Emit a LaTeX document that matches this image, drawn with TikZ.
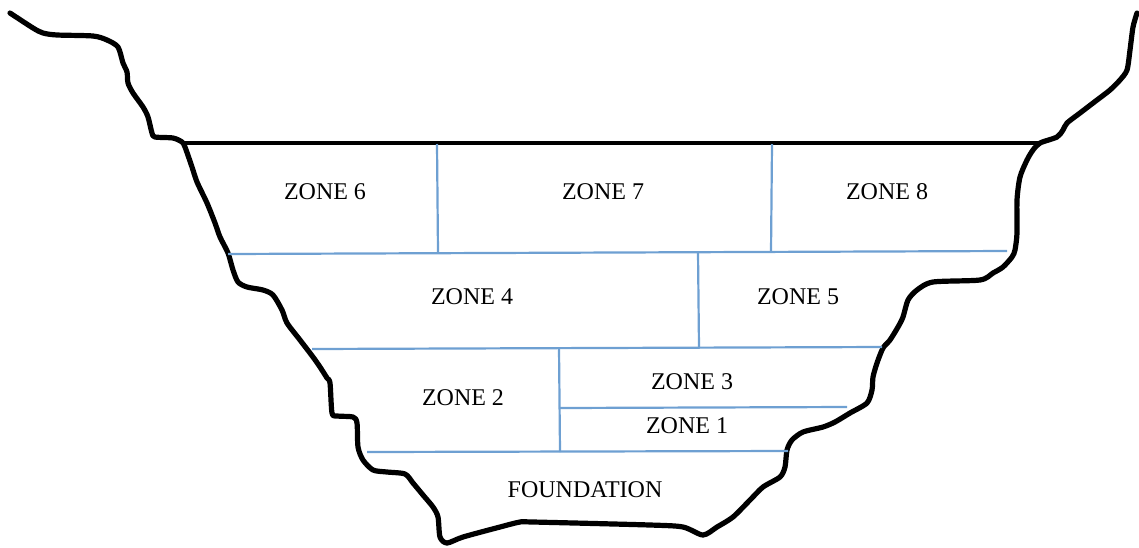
\documentclass[tikz,border=0pt]{standalone}
\usepackage{fontspec}
\setmainfont{Liberation Serif}
\definecolor{zoneblue}{RGB}{110,160,210}
\begin{document}
\begin{tikzpicture}[x=0.5pt,y=-0.5pt,
  ground/.style={line width=2.6pt,black,line join=round,line cap=round},
  crest/.style={line width=2.4pt,black},
  zline/.style={line width=1.1pt,zoneblue},
  zlabel/.style={font=\fontsize{12}{14}\selectfont,inner sep=0pt}]
\useasboundingbox (0,0) rectangle (1139,547);
% valley profile
\draw[ground] plot[smooth,tension=0.45] coordinates {
 (10,13) (33,28) (43,33) (57,35) (93,36) (107,40) (118,47) (123,63) (127,72)
 (128,83) (133,93) (143,107) (148,117) (152,133) (155,137) (173,138) (182,142)
 (185,147) (192,167) (197,182) (207,203) (215,223) (220,237) (228,253) (233,270)
 (238,282) (247,287) (263,290) (273,295) (282,310) (287,323) (300,340) (313,357)
 (320,367) (327,378) (330,383) (332,413) (337,416) (353,417) (357,423) (358,447)
 (363,460) (373,470) (387,472) (405,474) (413,483) (423,495) (433,507) (438,517)
 (440,537) (447,543) (463,537) (500,527) (520,522) (533,522) (650,525) (683,527)
 (703,535) (717,527) (733,517) (750,500) (763,487) (780,477) (785,467) (787,450)
 (792,440) (803,432) (823,427) (835,422) (850,413) (867,403) (872,390) (873,377)
 (877,363) (883,348) (890,340) (898,327) (903,317) (908,300) (917,290) (933,282)
 (980,280) (993,273) (1003,267) (1012,257) (1015,250) (1017,233) (1017,200)
 (1020,177) (1027,160) (1033,150) (1040,143) (1057,137) (1063,130) (1067,123)
 (1080,113) (1097,100) (1110,90) (1120,80) (1127,70) (1130,50) (1133,27) (1137,13)};
% crest
\coordinate (cL) at (185,143);
\coordinate (cR) at (1040,143);
\draw[crest] (cL) -- (cR);
% zone boundaries
\coordinate (v1t) at (437,144); \coordinate (v1b) at (438,253);
\coordinate (v2t) at (772,144); \coordinate (v2b) at (771,252);
\coordinate (h1L) at (228,254); \coordinate (h1R) at (1007,251);
\coordinate (v3t) at (698,252); \coordinate (v3b) at (699,348);
\coordinate (h2L) at (312,349); \coordinate (h2R) at (882,347);
\coordinate (v4t) at (559,348); \coordinate (v4b) at (560,452);
\coordinate (h3L) at (560,408); \coordinate (h3R) at (847,407);
\coordinate (h4L) at (367,452); \coordinate (h4R) at (788,451);
\draw[zline] (v1t) -- (v1b);
\draw[zline] (v2t) -- (v2b);
\draw[zline] (h1L) -- (h1R);
\draw[zline] (v3t) -- (v3b);
\draw[zline] (h2L) -- (h2R);
\draw[zline] (v4t) -- (v4b);
\draw[zline] (h3L) -- (h3R);
\draw[zline] (h4L) -- (h4R);
% labels
\node[zlabel] (z6) at (325,192) {ZONE 6};
\node[zlabel] (z7) at (603,192) {ZONE 7};
\node[zlabel] (z8) at (887,192) {ZONE 8};
\node[zlabel] (z4) at (472,297) {ZONE 4};
\node[zlabel] (z5) at (798,297) {ZONE 5};
\node[zlabel] (z2) at (463,398) {ZONE 2};
\node[zlabel] (z3) at (692,382) {ZONE 3};
\node[zlabel] (z1) at (687,426) {ZONE 1};
\node[zlabel] (fd) at (585,490) {FOUNDATION};
\end{tikzpicture}
\end{document}
